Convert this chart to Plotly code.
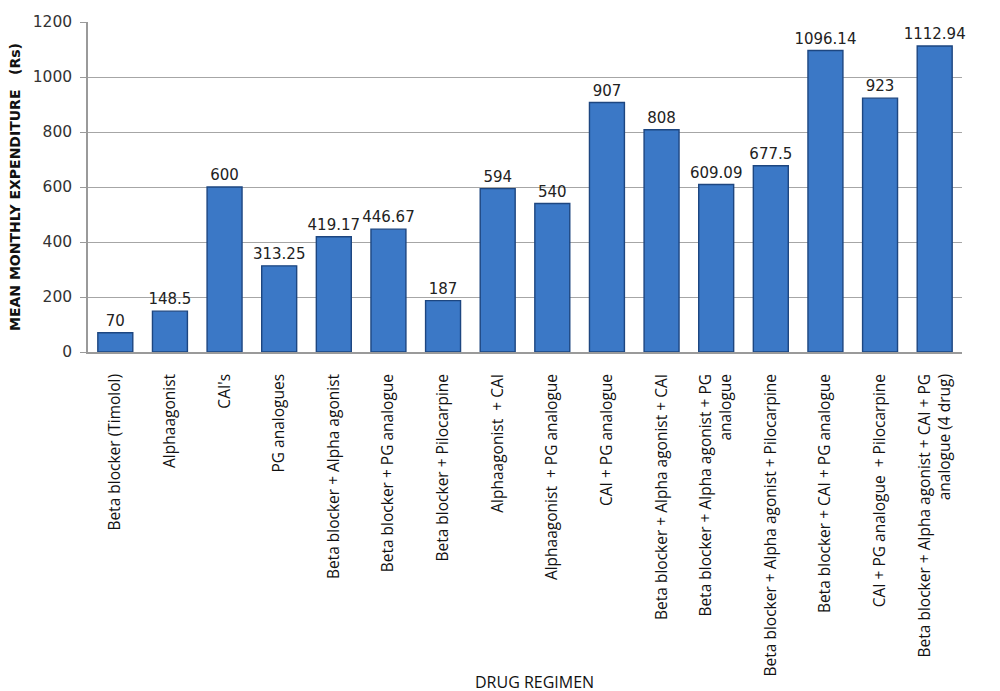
import plotly.graph_objects as go

# drug regimens and mean monthly expenditure (Rs)
regimens = [
    "Beta blocker (Timolol)",
    "Alphaagonist",
    "CAI's",
    "PG analogues",
    "Beta blocker + Alpha agonist",
    "Beta blocker + PG analogue",
    "Beta blocker + Pilocarpine",
    "Alphaagonist  + CAI",
    "Alphaagonist  + PG analogue",
    "CAI + PG analogue",
    "Beta blocker + Alpha agonist + CAI",
    "Beta blocker + Alpha agonist + PG<br>analogue",
    "Beta blocker + Alpha agonist + Pilocarpine",
    "Beta blocker + CAI + PG analogue",
    "CAI + PG analogue  + Pilocarpine",
    "Beta blocker + Alpha agonist + CAI + PG<br>analogue (4 drug)",
]
expenditure = [70, 148.5, 600, 313.25, 419.17, 446.67, 187, 594, 540,
               907, 808, 609.09, 677.5, 1096.14, 923, 1112.94]
value_labels = ["70", "148.5", "600", "313.25", "419.17", "446.67", "187", "594", "540",
                "907", "808", "609.09", "677.5", "1096.14", "923", "1112.94"]
y_ticks = [0, 200, 400, 600, 800, 1000, 1200]

fig = go.Figure(go.Bar(
    x=regimens,
    y=expenditure,
    text=value_labels,
    textposition="outside",
    constraintext="none",
    cliponaxis=False,
    textfont=dict(family="DejaVu Sans", size=15, color="#222222"),
    marker=dict(color="#3b78c6", line=dict(color="#1d4680", width=1.4)),
))

# page is drawn with an 8px body margin, so margins are shifted by 8px
fig.update_layout(
    width=1000,
    height=691,
    margin=dict(l=80, r=46, t=14, b=347),
    plot_bgcolor="white",
    paper_bgcolor="white",
    bargap=0.36,
    showlegend=False,
    xaxis=dict(
        automargin=False,
        tickangle=-90,
        ticks="",
        showline=True,
        linecolor="#9a9a9a",
        linewidth=1.5,
        ticklabelstandoff=14,
        tickfont=dict(family="Open Sans", size=15.5, color="#111111"),
    ),
    yaxis=dict(
        automargin=False,
        range=[0, 1200],
        tickvals=y_ticks,
        ticks="outside",
        ticklen=6,
        tickcolor="#9a9a9a",
        ticklabelstandoff=5,
        showline=True,
        linecolor="#9a9a9a",
        linewidth=1.5,
        showgrid=True,
        gridcolor="#a6a6a6",
        gridwidth=1.2,
        zeroline=False,
        tickfont=dict(family="DejaVu Sans", size=15.5, color="#333333"),
    ),
    annotations=[
        dict(text="MEAN MONTHLY EXPENDITURE&nbsp;&nbsp;&nbsp;(Rs)", textangle=-90,
             xref="paper", yref="paper", x=-0.0835, y=0.5,
             xanchor="center", yanchor="middle", showarrow=False,
             font=dict(family="DejaVu Sans", size=14, color="#111111", weight="bold")),
        dict(text="DRUG REGIMEN",
             xref="paper", yref="paper", x=0.511, y=-1.0,
             xanchor="center", yanchor="middle", showarrow=False,
             font=dict(family="Open Sans", size=16, color="#111111")),
    ],
)

fig.write_html("out.html")
